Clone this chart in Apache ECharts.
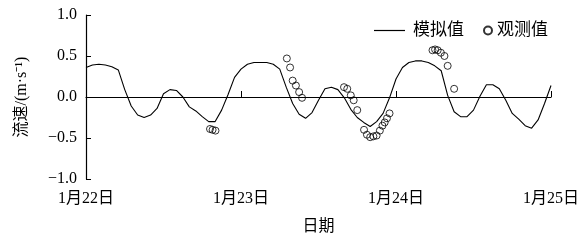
<!DOCTYPE html>
<html>
<head>
<meta charset="utf-8">
<script src="https://cdn.jsdelivr.net/npm/echarts@6/dist/echarts.min.js"></script>
<style>
  html, body { margin: 0; padding: 0; background: #fff; }
  #flowChart { width: 586px; height: 240px; }
</style>
</head>
<body>
<div id="flowChart"></div>
<script>
// x 轴刻度：每 24 小时一个日期
var dayLabels = ['1月22日', '1月23日', '1月24日', '1月25日'];

// 模拟值，逐时（从 1月22日 0 时起）
var simValues = [
  0.36, 0.39, 0.40, 0.39, 0.37, 0.33, 0.09, -0.11, -0.22, -0.25,
  -0.22, -0.14, 0.04, 0.09, 0.08, 0.00, -0.12, -0.17, -0.24, -0.30,
  -0.30, -0.16, 0.03, 0.24, 0.34, 0.40, 0.42, 0.42, 0.42, 0.40,
  0.34, 0.12, -0.08, -0.21, -0.26, -0.19, -0.04, 0.10, 0.12, 0.09,
  -0.01, -0.15, -0.25, -0.31, -0.36, -0.30, -0.20, -0.01, 0.22, 0.36,
  0.42, 0.44, 0.44, 0.42, 0.38, 0.32, 0.02, -0.18, -0.24, -0.24,
  -0.16, 0.01, 0.15, 0.15, 0.10, -0.04, -0.20, -0.27, -0.35, -0.38,
  -0.28, -0.08, 0.14
];

// 观测值（小时, 流速）
var obsHours = [
  19.2, 19.6, 20.05,
  31.1, 31.6, 32.0, 32.5, 33.0, 33.45,
  39.95, 40.45, 41.0, 41.45, 42.0, 43.05, 43.5, 44.0, 44.5, 45.0, 45.5, 45.9, 46.25, 46.6, 47.0,
  53.65, 54.05, 54.45, 54.95, 55.5, 56.0, 57.0
];
var obsValues = [
  -0.39, -0.40, -0.41,
  0.47, 0.36, 0.20, 0.14, 0.06, -0.01,
  0.12, 0.10, 0.02, -0.04, -0.16, -0.40, -0.46, -0.49, -0.48, -0.47, -0.41, -0.35, -0.31, -0.26, -0.20,
  0.57, 0.58, 0.57, 0.54, 0.50, 0.38, 0.10
];

var serif = "'Liberation Serif', 'Times New Roman', 'Noto Sans CJK SC', serif";

var myChart = echarts.init(document.getElementById('flowChart'));
myChart.setOption({
  animation: false,
  textStyle: { fontFamily: serif, color: '#000' },
  grid: {
    left: 86,
    right: 35,
    top: 15,
    bottom: 58
  },
  legend: [{
    data: [{ name: '模拟值', icon: 'rect' }],
    left: 369,
    top: 17,
    itemWidth: 31,
    itemHeight: 1.2,
    textStyle: { fontFamily: serif, fontSize: 17, color: '#000', padding: [0, 0, 0, 3] }
  }, {
    data: [{ name: '观测值', icon: 'circle' }],
    left: 478,
    top: 17,
    itemWidth: 8,
    itemHeight: 8,
    textStyle: { fontFamily: serif, fontSize: 17, color: '#000' }
  }],
  xAxis: {
    type: 'value',
    min: 0,
    max: 72,
    interval: 24,
    name: '日期',
    nameLocation: 'middle',
    nameGap: 40,
    nameTextStyle: { fontFamily: serif, fontSize: 16, color: '#000' },
    axisLine: { lineStyle: { color: '#000', width: 1.2 } },
    axisTick: { inside: true, length: 6, lineStyle: { color: '#000' } },
    axisLabel: {
      fontFamily: serif,
      fontSize: 16,
      color: '#000',
      margin: 12,
      formatter: function (v) {
        return dayLabels[Math.round(v / 24)];
      }
    },
    splitLine: { show: false }
  },
  yAxis: {
    type: 'value',
    min: -1,
    max: 1,
    interval: 0.5,
    name: '流速/(m·s⁻¹)',
    nameLocation: 'middle',
    nameRotate: 90,
    nameGap: 56,
    nameTextStyle: { fontFamily: serif, fontSize: 16, color: '#000' },
    axisLine: { show: true, lineStyle: { color: '#000', width: 1.2 } },
    axisTick: { show: true, inside: true, length: 5, lineStyle: { color: '#000' } },
    axisLabel: {
      fontFamily: serif,
      fontSize: 16,
      color: '#000',
      margin: 9,
      formatter: function (v) {
        return v.toFixed(1).replace('-', '−');
      }
    },
    splitLine: { show: false }
  },
  series: [{
    name: '模拟值',
    type: 'line',
    data: simValues.map(function (v, i) { return [i, v]; }),
    symbol: 'none',
    lineStyle: { color: '#000', width: 1.1 },
    itemStyle: { color: '#000' }
  }, {
    name: '观测值',
    type: 'scatter',
    data: obsHours.map(function (h, i) { return [h, obsValues[i]]; }),
    symbol: 'circle',
    symbolSize: 7,
    itemStyle: { color: 'transparent', borderColor: '#000', borderWidth: 1 }
  }]
});
</script>
</body>
</html>
